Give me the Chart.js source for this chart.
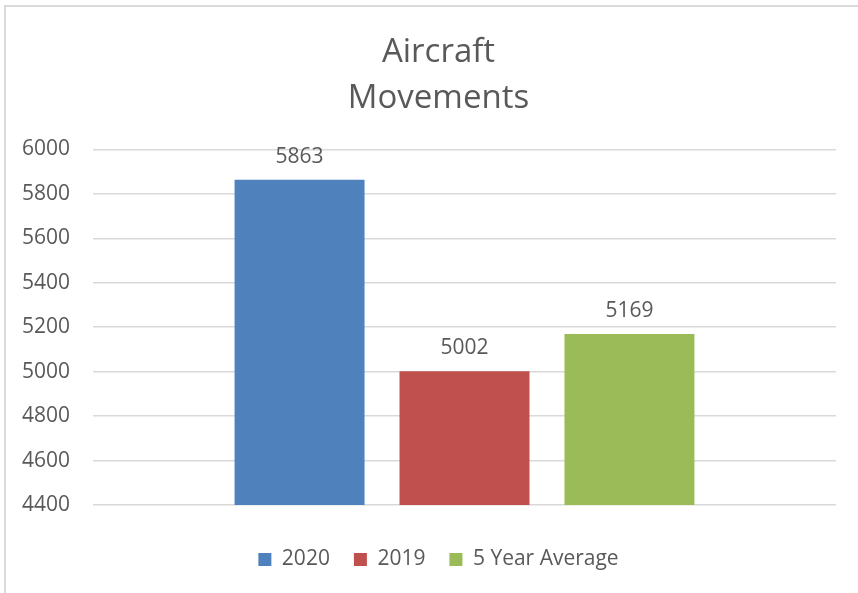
<!DOCTYPE html>
<html>
<head>
<meta charset="utf-8">
<script src="https://cdn.jsdelivr.net/npm/chart.js@4"></script>
<style>
  html, body { margin: 0; padding: 0; background: #fff; overflow: hidden; }
  #wrap {
    position: absolute; left: 4px; top: 5px;
    width: 900px; height: 700px;
    border-left: 2px solid #d9d9d9; border-top: 2px solid #d9d9d9;
  }
  #box { position: absolute; left: 0; top: 0; width: 858px; height: 586px; }
</style>
</head>
<body>
<div id="wrap"><div id="box"><canvas id="chart"></canvas></div></div>
<script>
// Chart data
const titleLines = ["Aircraft", "Movements"];
const categories = [""];
const seriesNames = ["2020", "2019", "5 Year Average"];
const seriesValues = [[5863], [5002], [5169]];
const seriesColors = ["#4F81BD", "#C0504D", "#9BBB59"];
const yMin = 4400;
const yMax = 6000;
const yStep = 200;

const FONT = "'Open Sans', sans-serif";
const TEXT = "#595959";

// value labels above each bar
const valueLabels = {
  id: "valueLabels",
  afterDatasetsDraw(chart) {
    const ctx = chart.ctx;
    ctx.save();
    ctx.font = "21px " + FONT;
    ctx.fillStyle = TEXT;
    ctx.textAlign = "center";
    ctx.textBaseline = "middle";
    chart.data.datasets.forEach((ds, i) => {
      chart.getDatasetMeta(i).data.forEach((bar, j) => {
        ctx.fillText(ds.data[j], bar.x, bar.y - 23);
      });
    });
    ctx.restore();
  }
};

const ctx = document.getElementById("chart").getContext("2d");
new Chart(ctx, {
  type: "bar",
  data: {
    labels: categories,
    datasets: seriesNames.map((name, i) => ({
      label: name,
      data: seriesValues[i],
      backgroundColor: seriesColors[i],
      categoryPercentage: 0.666,
      barPercentage: 0.788
    }))
  },
  options: {
    responsive: true,
    maintainAspectRatio: false,
    animation: false,
    layout: { padding: { left: 35, right: 28, top: 22, bottom: 13 } },
    plugins: {
      title: {
        display: true,
        text: titleLines,
        color: TEXT,
        font: { family: FONT, size: 33, weight: "normal", lineHeight: 1.4 },
        padding: { top: 0, bottom: 28 }
      },
      legend: {
        position: "bottom",
        labels: {
          color: TEXT,
          font: { family: FONT, size: 21 },
          boxWidth: 13,
          boxHeight: 13,
          padding: 24
        }
      },
      tooltip: { enabled: false }
    },
    scales: {
      x: {
        grid: { display: false },
        border: { display: false },
        ticks: { display: false },
        afterFit(scale) { scale.height = 20; }
      },
      y: {
        min: yMin,
        max: yMax,
        ticks: {
          stepSize: yStep,
          color: TEXT,
          font: { family: FONT, size: 21 },
          mirror: true,
          padding: -71,
          callback: (v) => String(v)
        },
        grid: { color: "#d9d9d9", lineWidth: 1.5, drawTicks: false },
        border: { display: false },
        afterFit(scale) { scale.width = 52; }
      }
    }
  },
  plugins: [valueLabels]
});
</script>
</body>
</html>
